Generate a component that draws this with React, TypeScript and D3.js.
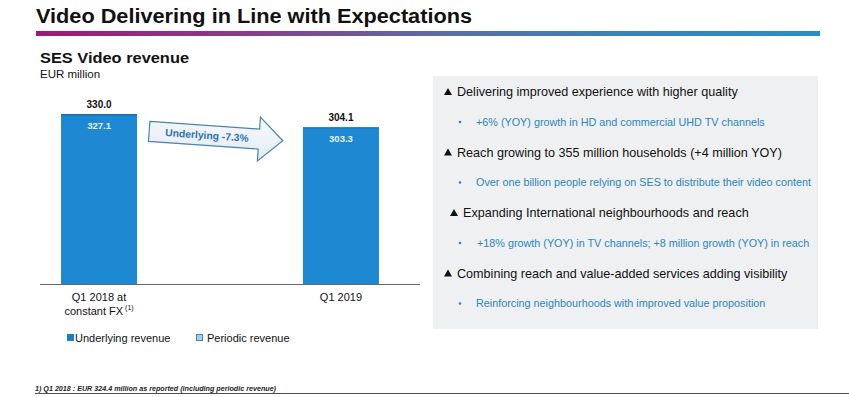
import React from 'react';
import * as d3 from 'd3';

const categories = ['Q1 2018 at|constant FX', 'Q1 2019'];
const underlying = [327.1, 303.3];
const totals = [330.0, 304.1];
const changeLabel = 'Underlying -7.3%';
const legendItems = ['Underlying revenue', 'Periodic revenue'];

const highlights = [
  { head: 'Delivering improved experience with higher quality', sub: '+6% (YOY) growth in HD and commercial UHD TV channels', indent: 0 },
  { head: 'Reach growing to 355 million households (+4 million YOY)', sub: 'Over one billion people relying on SES to distribute their video content', indent: 0 },
  { head: 'Expanding International neighbourhoods and reach', sub: '+18% growth (YOY) in TV channels; +8 million growth (YOY) in reach', indent: 6 },
  { head: 'Combining reach and value-added services adding visibility', sub: 'Reinforcing neighbourhoods with improved value proposition', indent: 0 },
];

const W = 849;
const H = 397;
const font = 'Liberation Sans, Arial, sans-serif';
const barBlue = '#1f88d3';
const subBlue = '#2b86bd';

export default function App() {
  const baseY = 284;
  const x = d3.scaleBand().domain(categories).range([40, 400]).paddingInner(0.686).paddingOuter(0.087);
  const y = d3.scaleLinear().domain([0, 330]).range([baseY, 114]);
  const bw = x.bandwidth();

  // arrow shape in local coords
  const arrowPts: [number, number][] = [
    [-66, -10], [44, -10], [44, -22], [68, 0], [44, 22], [44, 10], [-66, 10],
  ];
  const arrowPath = d3.line()(arrowPts) + 'Z';

  const gradStops = ['#9c1a79', '#8a3a88', '#5f6aa3', '#3684b9', '#2a8dc6'];

  return (
    <svg width={W} height={H} style={{ position: 'absolute', left: 0, top: 0, background: '#fff' }}>
      <defs>
        <linearGradient id="rule" x1="0" x2="1" y1="0" y2="0">
          {gradStops.map((c, i) => (
            <stop key={i} offset={i / (gradStops.length - 1)} stopColor={c} />
          ))}
        </linearGradient>
        <linearGradient id="arrowFill" x1="0" x2="0" y1="0" y2="1">
          <stop offset="0" stopColor="#f7f9fc" />
          <stop offset="1" stopColor="#e3ebf3" />
        </linearGradient>
      </defs>

      <text x={36} y={23} fontFamily={font} fontWeight="bold" fontSize={20} fill="#111" textLength={436} lengthAdjust="spacingAndGlyphs">
        Video Delivering in Line with Expectations
      </text>
      <rect x={36} y={31} width={784} height={5} fill="url(#rule)" />

      <text x={40} y={63} fontFamily={font} fontWeight="bold" fontSize={14} fill="#111" textLength={149} lengthAdjust="spacingAndGlyphs">SES Video revenue</text>
      <text x={40} y={78} fontFamily={font} fontSize={11.5} fill="#111">EUR million</text>

      {categories.map((c, i) => {
        const bx = x(c)!;
        const cx = bx + bw / 2;
        const lines = c.split('|');
        return (
          <g key={c}>
            <rect x={bx} y={y(totals[i])} width={bw} height={baseY - y(totals[i])} fill={barBlue} />
            <rect x={bx} y={y(totals[i])} width={bw} height={Math.max(1, y(underlying[i]) - y(totals[i]))} fill="#1570b5" />
            <text x={cx} y={y(totals[i]) - 6} textAnchor="middle" fontFamily={font} fontWeight="bold" fontSize={10} fill="#111">
              {totals[i].toFixed(1)}
            </text>
            <text x={cx} y={y(totals[i]) + 15} textAnchor="middle" fontFamily={font} fontWeight="bold" fontSize={9.5} fill="#e8f3ff">
              {underlying[i].toFixed(1)}
            </text>
            {lines.map((l, j) => (
              <text key={j} x={cx} y={baseY + 17 + j * 14} textAnchor="middle" fontFamily={font} fontSize={11} fill="#111">
                {l}
                {j === lines.length - 1 && lines.length > 1 ? (
                  <tspan dy={-5} fontSize={7}>{' (1)'}</tspan>
                ) : null}
              </text>
            ))}
          </g>
        );
      })}
      <line x1={40} x2={420} y1={baseY + 0.5} y2={baseY + 0.5} stroke="#666" strokeWidth={1} />

      <g transform="translate(215,136) rotate(4)">
        <path d={arrowPath} fill="url(#arrowFill)" stroke="#4a83b3" strokeWidth={1.2} />
        <text x={-8} y={3.5} textAnchor="middle" fontFamily={font} fontWeight="bold" fontSize={10.3} fill="#2a74b0">
          {changeLabel}
        </text>
      </g>

      <rect x={67} y={334} width={7} height={7} fill="#1a80c0" />
      <text x={75} y={342} fontFamily={font} fontSize={11} fill="#111">{legendItems[0]}</text>
      <rect x={196.5} y={334.5} width={6} height={6} fill="#a9cde8" stroke="#3f86bd" strokeWidth={1} />
      <text x={207} y={342} fontFamily={font} fontSize={11} fill="#111">{legendItems[1]}</text>

      <text x={35} y={391} fontFamily={font} fontStyle="italic" fontWeight="bold" fontSize={6.5} fill="#222" textLength={241} lengthAdjust="spacingAndGlyphs">
        1) Q1 2018 : EUR 324.4 million as reported (including periodic revenue)
      </text>
      <line x1={35} x2={849} y1={393.5} y2={393.5} stroke="#222" strokeWidth={0.8} />

      <rect x={433} y={76} width={385} height={253} fill="#eff0f2" />
      {highlights.map((h, i) => {
        const hy = 96 + i * 60.5;
        const tx = 444 + h.indent;
        return (
          <g key={i}>
            <path d={`M${tx},${hy - 1} L${tx + 4},${hy - 8} L${tx + 8},${hy - 1} Z`} fill="#111" />
            <text x={tx + 13} y={hy} fontFamily={font} fontSize={12.6} fill="#111">{h.head}</text>
            <circle cx={460} cy={hy + 26} r={1.3} fill={subBlue} />
            <text x={476 + (h.indent ? 1 : 0)} y={hy + 29.5} fontFamily={font} fontSize={10.8} fill={subBlue}>{h.sub}</text>
          </g>
        );
      })}
    </svg>
  );
}
